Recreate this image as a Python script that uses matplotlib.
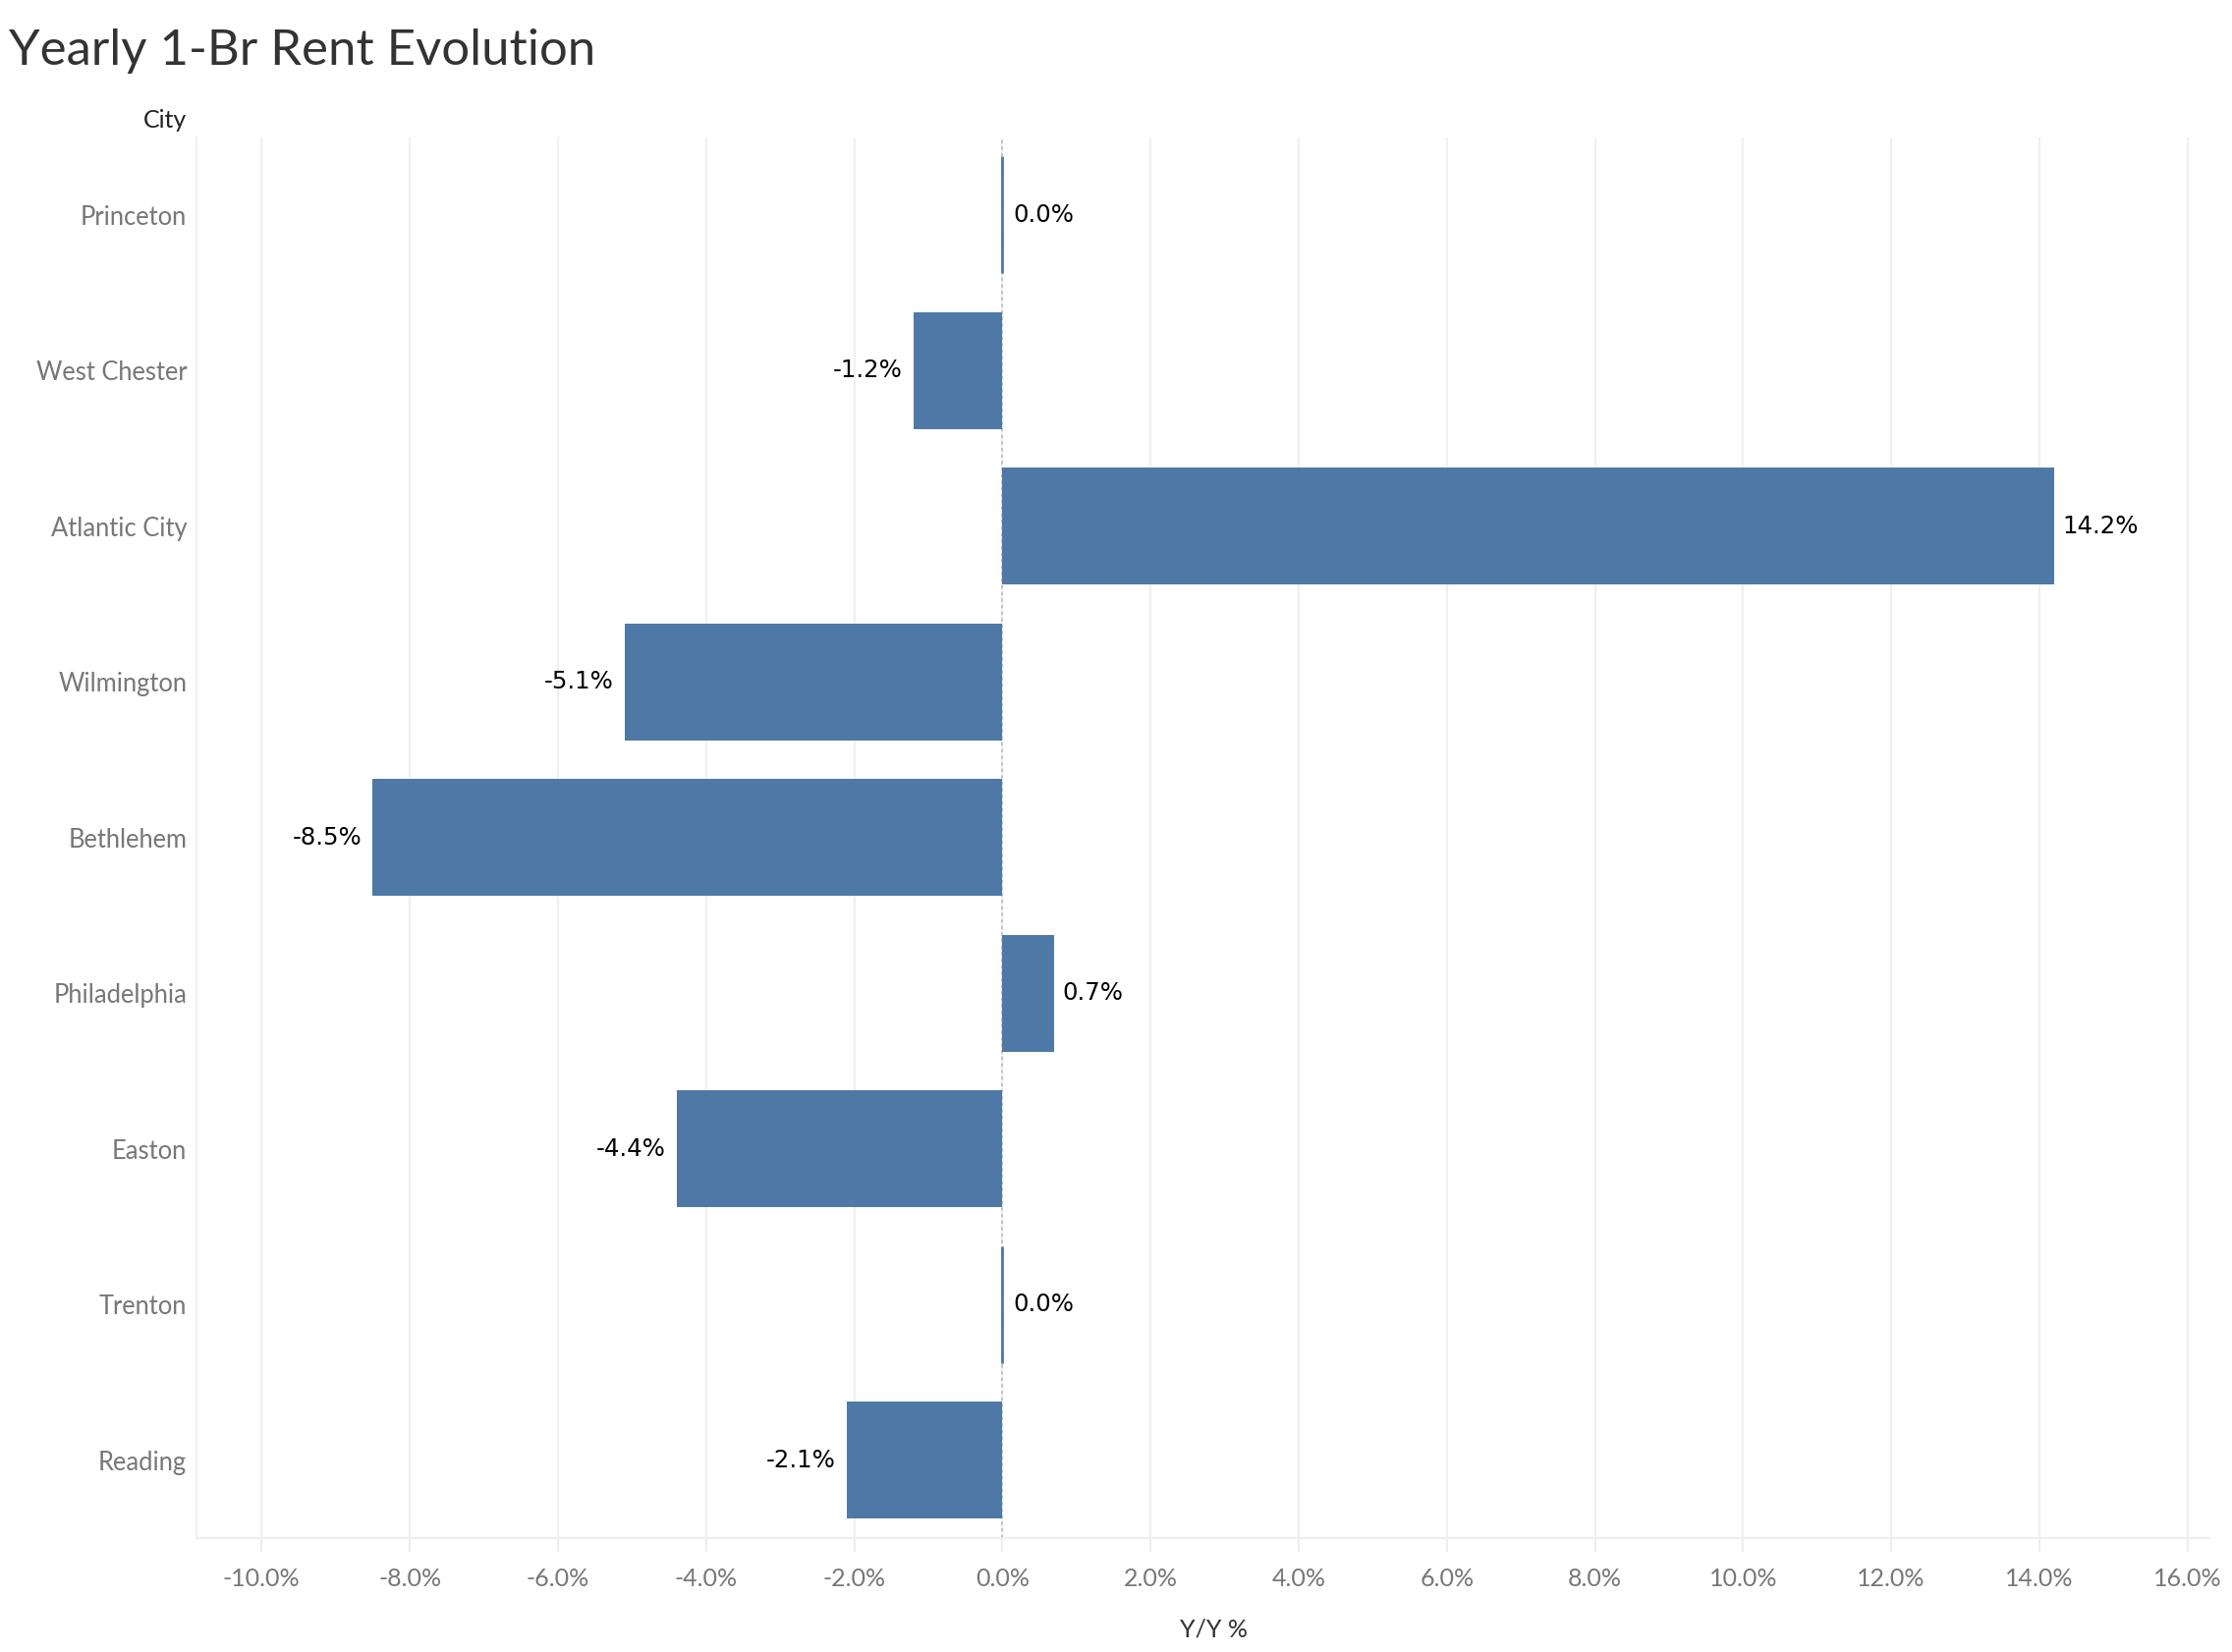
import matplotlib
matplotlib.use("Agg")
import matplotlib.pyplot as plt
from matplotlib.ticker import FuncFormatter, MultipleLocator

cities = ["Princeton", "West Chester", "Atlantic City", "Wilmington", "Bethlehem",
          "Philadelphia", "Easton", "Trenton", "Reading"]
yoy = [0.0, -1.2, 14.2, -5.1, -8.5, 0.7, -4.4, 0.0, -2.1]
labels = ["0.0%", "-1.2%", "14.2%", "-5.1%", "-8.5%", "0.7%", "-4.4%", "0.0%", "-2.1%"]

bar_color = "#4e79a7"
label_font = ["Lato", "DejaVu Sans"]

fig = plt.figure(figsize=(11.36, 8.41), dpi=200)
ax = fig.add_axes([0.088, 0.069, 0.912, 0.848])

ypos = list(range(len(cities)))
lws = [1.0 if v == 0 else 0 for v in yoy]
ax.barh(ypos, yoy, height=0.75, color=bar_color, edgecolor=bar_color, linewidth=lws, zorder=3)

for y, v, t in zip(ypos, yoy, labels):
    if v > 0:
        off, ha = 3, "left"
    elif v == 0:
        off, ha = 4, "left"
    else:
        off, ha = -4, "right"
    ax.annotate(t, (v, y), xytext=(off, 0), textcoords="offset points",
                ha=ha, va="center", fontsize=8.8, color="black",
                family="DejaVu Sans", zorder=4)

ax.set_ylim(len(cities) - 0.5, -0.5)
ax.set_xlim(-10.88, 16.6)
ax.set_yticks(ypos)
ax.set_yticklabels(cities, family=label_font, fontsize=9.2, color="#777777")
ax.xaxis.set_major_locator(MultipleLocator(2))
ax.xaxis.set_major_formatter(FuncFormatter(lambda x, p: f"{x:.1f}%"))
for lab in ax.get_xticklabels():
    lab.set_family(label_font)
ax.tick_params(axis="x", labelsize=9, labelcolor="#777777", color="#eeeeee",
               length=5, width=0.8, pad=6)
ax.tick_params(axis="y", length=0, pad=3.5)

ax.grid(axis="x", color="#f0f0f0", linewidth=0.8, zorder=0)
ax.axvline(0, color="#bbbbbb", linestyle=(0, (2, 2)), linewidth=0.6, zorder=2)

for s in ["top", "right"]:
    ax.spines[s].set_visible(False)
ax.spines["bottom"].set_color("#eeeeee")
ax.spines["left"].set_color("#f2f2f2")
ax.spines["bottom"].set_linewidth(0.8)
ax.spines["left"].set_linewidth(0.8)
ax.spines["bottom"].set_bounds(-10.88, 16.3)

ax.set_xlabel("Y/Y %", family=label_font, fontsize=9, color="#333333", labelpad=10)

fig.text(0.004, 0.969, "Yearly 1-Br Rent Evolution", family=label_font, fontsize=18.3,
         color="#333333", ha="left", va="center")
fig.text(0.0835, 0.927, "City", family=label_font, fontsize=9, color="#222222",
         ha="right", va="center")

fig.savefig("out.png", dpi=200)
